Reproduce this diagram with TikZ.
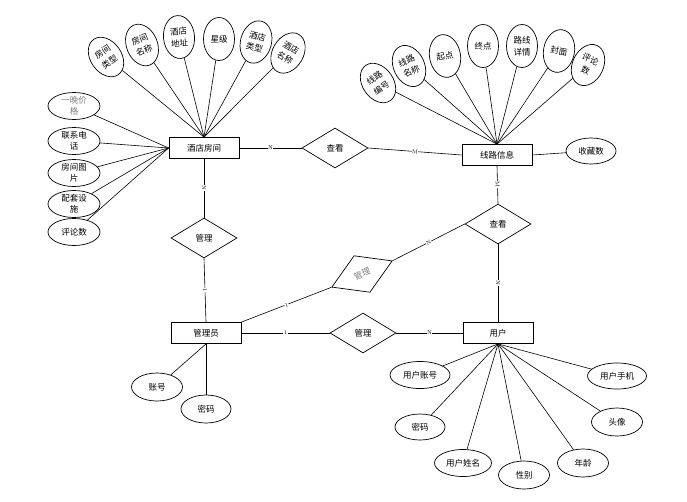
\documentclass[tikz,border=0pt]{standalone}
\usepackage{fontspec}
\newfontfamily\cjk{Noto Sans CJK SC}
\usetikzlibrary{shapes.geometric}
\begin{document}
\begin{tikzpicture}[x=1pt,y=-1pt,
  every node/.style={font=\cjk\fontsize{8.5}{10.5}\selectfont},
  ent/.style={draw, rectangle, minimum width=70, minimum height=21, inner sep=0, line width=0.8pt},
  rel/.style={draw, diamond, minimum width=66, minimum height=40, inner sep=0, line width=0.7pt},
  attr/.style={draw, ellipse, minimum width=52, minimum height=27, inner sep=0, align=center, line width=0.7pt},
  tattr/.style={draw, ellipse, minimum width=31, minimum height=43, inner sep=0, align=center, line width=0.7pt, font=\cjk\fontsize{8.5}{12}\selectfont},
  card/.style={font=\fontsize{5.5}{6}\selectfont, fill=white, inner sep=0.4pt, sloped, midway},
  ln/.style={line width=0.6pt}
]
\path[use as bounding box, fill=white] (0,0) rectangle (687,501);

% entities
\node[ent] (hotel) at (204,148) {酒店房间};
\node[ent] (route) at (497,155) {线路信息};
\node[ent] (admin) at (206,333) {管理员};
\node[ent] (user) at (498,333) {用户};

% relationships
\node[rel] (ckT) at (335,148) {查看};
\node[rel] (ckR) at (498,224) {查看};
\node[rel] (mgL) at (204,238) {管理};
\node[rel] (mgB) at (363,333) {管理};
\node[rel, rotate=23.5, text=gray] (mgD) at (362,274) {管理};

% hotel top attributes
\node[tattr, rotate=35] (h1) at (106,57) {房间\\类型};
\node[tattr, rotate=22] (h2) at (142,45) {房间\\名称};
\node[tattr, rotate=5] (h3) at (179,37) {酒店\\地址};
\node[tattr] (h4) at (219,39) {星级};
\node[tattr, rotate=-15] (h5) at (256,42) {酒店\\类型};
\node[tattr, rotate=-30] (h6) at (288,53) {酒店\\名称};
\foreach \n in {h1,h2,h3,h4,h5,h6} \draw[ln] (hotel.north) -- (\n);

% hotel left attributes
\node[attr, text=gray] (l1) at (74,106) {一晚价\\格};
\node[attr] (l2) at (74,141) {联系电\\话};
\node[attr] (l3) at (74,173) {房间图\\片};
\node[attr] (l4) at (74,204) {配套设\\施};
\node[attr] (l5) at (74,232) {评论数};
\foreach \n in {l1,l2,l3,l4,l5} \draw[ln] (hotel.west) -- (\n);

% route top attributes
\node[tattr, rotate=35] (r1) at (378,83) {线路\\编号};
\node[tattr, rotate=25] (r2) at (409,66) {线路\\名称};
\node[tattr, rotate=10] (r3) at (445,56) {起点};
\node[tattr] (r4) at (483,46) {终点};
\node[tattr] (r5) at (522,46) {路线\\详情};
\node[tattr, rotate=-10] (r6) at (559,51) {封面};
\node[tattr, rotate=-25] (r7) at (588,65) {评论\\数};
\foreach \n in {r1,r2,r3,r4,r5,r6,r7} \draw[ln] (route.north) -- (\n);
\node[attr, minimum width=50, minimum height=26] (fav) at (591,151) {收藏数};
\draw[ln] (route.east) -- (fav);

% admin attributes
\node[attr, minimum width=51, minimum height=28] (a1) at (157,387) {账号};
\node[attr, minimum width=50, minimum height=28] (a2) at (206,409) {密码};
\draw[ln] (admin.south) -- (a1);
\draw[ln] (admin.south) -- (a2);

% user attributes
\node[attr, minimum width=60, minimum height=27] (u1) at (420,375) {用户账号};
\node[attr, minimum width=59, minimum height=26] (u2) at (617,376) {用户手机};
\node[attr, minimum width=50, minimum height=26] (u3) at (420,427) {密码};
\node[attr, minimum width=51, minimum height=28] (u4) at (617,422) {头像};
\node[attr, minimum width=57, minimum height=27] (u5) at (463,463) {用户姓名};
\node[attr, minimum width=51, minimum height=28] (u6) at (524,475) {性别};
\node[attr, minimum width=51, minimum height=28] (u7) at (583,463) {年龄};
\foreach \n in {u1,u2,u3,u4,u5,u6,u7} \draw[ln] (user.south) -- (\n);

% relationship edges
\draw[ln] (hotel.east) -- node[card]{N} (ckT.west);
\draw[ln] (ckT.east) -- node[card]{M} (route.west);
\draw[ln] (route.south) -- node[card]{M} (ckR.north);
\draw[ln] (ckR.south) -- node[card]{N} (user.north);
\draw[ln] (hotel.south) -- node[card]{N} (mgL.north);
\draw[ln] (mgL.south) -- node[card]{1} (admin.north);
\draw[ln] (admin.north east) -- node[card]{1} (mgD.west);
\draw[ln] (mgD.east) -- node[card]{N} (ckR.west);
\draw[ln] (admin.east) -- node[card]{1} (mgB.west);
\draw[ln] (mgB.east) -- node[card]{N} (user.west);
\end{tikzpicture}
\end{document}
